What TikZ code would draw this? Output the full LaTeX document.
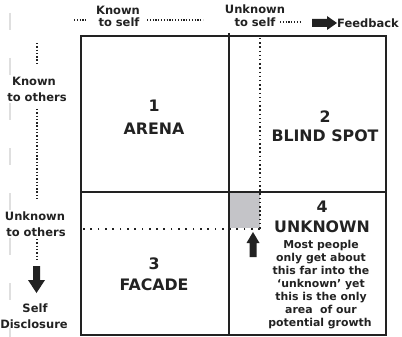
\documentclass[tikz,border=0pt]{standalone}
\usepackage{fontspec}
\setmainfont{DejaVu Sans}
\definecolor{ink}{HTML}{222222}
\definecolor{boxgrey}{HTML}{C4C4C8}
\tikzset{
  lbl/.style={inner sep=0pt, anchor=base, text=ink, font=\bfseries\fontsize{11.5}{13}\selectfont},
  body/.style={inner sep=0pt, anchor=base, text=ink, font=\bfseries\fontsize{10.9}{13}\selectfont},
  head/.style={inner sep=0pt, anchor=base, text=ink, font=\bfseries\fontsize{15.8}{18}\selectfont},
  frame/.style={draw=ink, line width=1.5pt},
  divider/.style={draw=ink, line width=1.2pt},
  dotsbig/.style={draw=ink, line width=1.7pt, dash pattern=on 1.7pt off 5.6pt},
  dotsv/.style={draw=ink, line width=1.6pt, dash pattern=on 1.5pt off 2.7pt},
  dotssmall/.style={draw=ink, line width=1.2pt, dash pattern=on 1.1pt off 1.7pt},
  dotsleft/.style={draw=ink, line width=1.5pt, dash pattern=on 1.4pt off 1.9pt},
  blockarrow/.style={fill=ink, draw=none},
}
\begin{document}
\begin{tikzpicture}[x=1pt,y=-1pt]
\useasboundingbox (0,0) rectangle (402,337);
% faint scan artifact at the left edge
\draw[gray!25, line width=1.5pt, dash pattern=on 17pt off 28pt] (10,13) -- (10,337);

% corners of the grid
\coordinate (tl) at (81,36);
\coordinate (br) at (386,335);
\coordinate (vt) at (229,33);
\coordinate (vb) at (229,335);
\coordinate (hl) at (81,192);
\coordinate (hr) at (386,192);

% gray square
\fill[boxgrey] (229,192) rectangle (260,228);

% grid
\draw[divider] (vt) -- (vb);
\draw[divider] (hl) -- (hr);
\draw[frame] (tl) rectangle (br);

% dotted lines in the grid
\coordinate (dvt) at (260,38);
\coordinate (dc) at (260,229);
\coordinate (dhl) at (83,229);
\draw[dotsv] (dvt) -- (dc);
\draw[dotsbig] (dc) -- (dhl);

% up arrow
\fill[blockarrow] (253,232) -- (259.5,243) -- (256.5,243) -- (256.5,257) -- (249.5,257) -- (249.5,243) -- (246.5,243) -- cycle;

% quadrant labels
\node[head] (n1) at (154,112) {1};
\node[head] (arena) at (154,134) {ARENA};
\node[head] (n2) at (325,122) {2};
\node[head] (blind) at (325,142) {BLIND SPOT};
\node[head] (n3) at (154,269) {3};
\node[head] (facade) at (154,290) {FACADE};
\node[head] (n4) at (322,212) {4};
\node[head] (unknown) at (322,232) {UNKNOWN};
\node[body] (b1) at (321,248) {Most people};
\node[body] (b2) at (321,261) {only get about};
\node[body] (b3) at (321,274) {this far into the};
\node[body] (b4) at (321,287) {‘unknown’ yet};
\node[body] (b5) at (321,300) {this is the only};
\node[body] (b6) at (321,313) {area\ \ of our};
\node[body] (b7) at (320,326) {potential growth};

% top labels
\node[lbl] (ks1) at (118,15) {Known};
\node[lbl] (ks2) at (119,27) {to self};
\node[lbl] (us1) at (255,14) {Unknown};
\node[lbl] (us2) at (255,27) {to self};
\node[lbl, anchor=base west] (fb) at (337,28) {Feedback};
\coordinate (d1a) at (74,20);
\coordinate (d1b) at (86,20);
\coordinate (d2a) at (147,20);
\coordinate (d2b) at (203,20);
\coordinate (d3a) at (280,22);
\coordinate (d3b) at (301,22);
\draw[dotssmall] (d1a) -- (d1b);
\draw[dotssmall] (d2a) -- (d2b);
\draw[dotssmall] (d3a) -- (d3b);
% feedback arrow
\fill[blockarrow] (312,19) -- (327,19) -- (327,16) -- (337,23) -- (327,30) -- (327,27) -- (312,27) -- cycle;

% left labels
\node[lbl] (ko1) at (34,85) {Known};
\node[lbl] (ko2) at (37,102) {to others};
\node[lbl] (uo1) at (35,220) {Unknown};
\node[lbl] (uo2) at (36,236) {to others};
\node[lbl] (sd1) at (35,312) {Self};
\node[lbl] (sd2) at (34,328) {Disclosure};
\coordinate (l1a) at (37,43);
\coordinate (l1b) at (37,64);
\coordinate (l2a) at (37,109);
\coordinate (l2b) at (37,200);
\coordinate (l3a) at (37,239);
\coordinate (l3b) at (37,262);
\draw[dotsleft] (l1a) -- (l1b);
\draw[dotsleft] (l2a) -- (l2b);
\draw[dotsleft] (l3a) -- (l3b);
% self disclosure arrow
\fill[blockarrow] (33,266) -- (40,266) -- (40,280) -- (45,280) -- (36.5,293) -- (28,280) -- (33,280) -- cycle;
\end{tikzpicture}
\end{document}
